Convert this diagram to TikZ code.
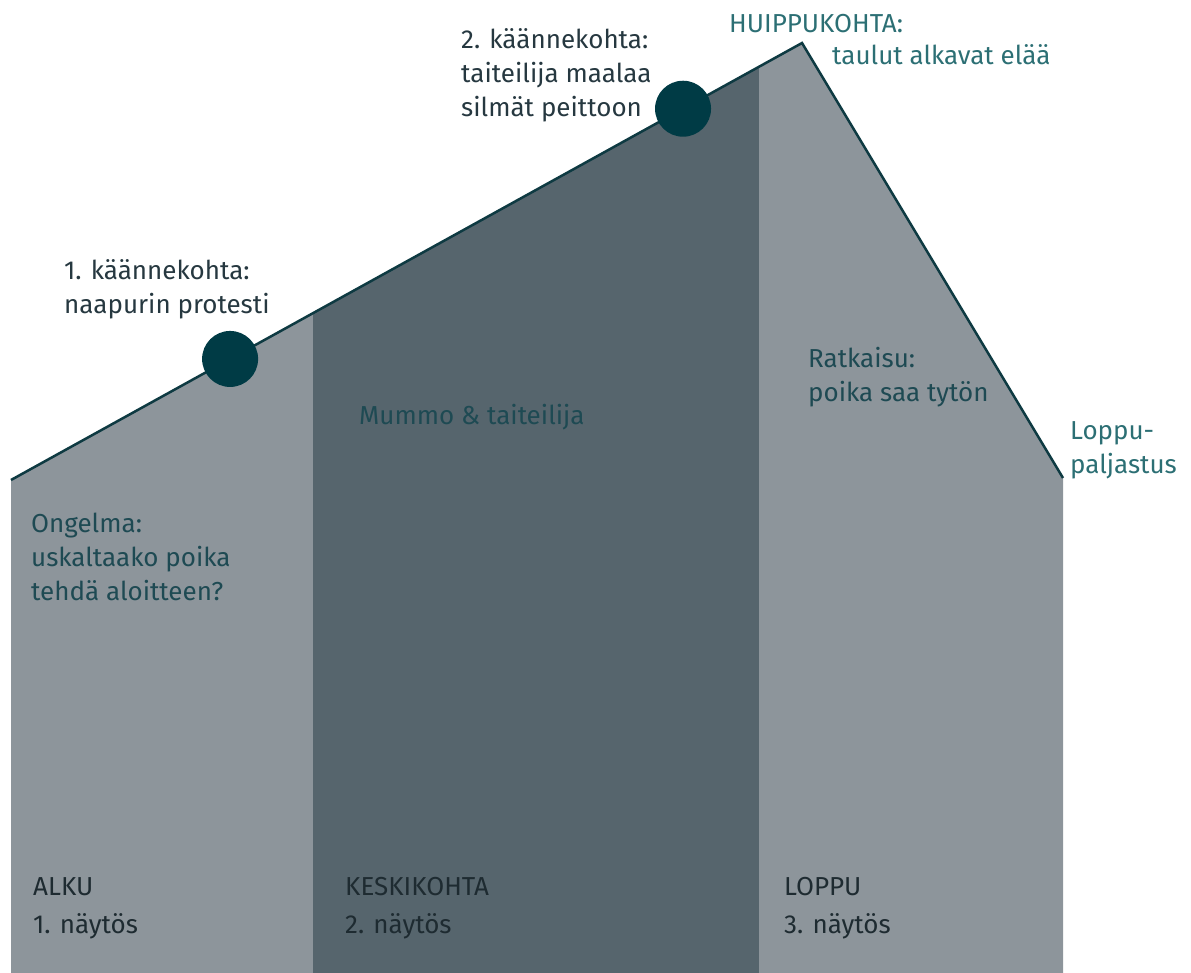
\documentclass[tikz,border=0pt]{standalone}
\usepackage{fontspec}
\setmainfont{Fira Sans}

\definecolor{vaalea}{HTML}{8D959B}
\definecolor{tumma}{HTML}{56656D}
\definecolor{piste}{HTML}{003B45}
\definecolor{viiva}{HTML}{0E3A42}
\definecolor{turkoosi}{HTML}{2C6F74}
\definecolor{petroli}{HTML}{1E4A53}
\definecolor{liuske}{HTML}{263840}
\definecolor{musta}{HTML}{1E2B31}

\tikzset{
  teksti/.style={anchor=base west, inner sep=0pt, align=left,
    font=\fontsize{26}{34}\selectfont},
  kohta/.style={circle, fill=piste, minimum size=56pt, inner sep=0pt}
}

\begin{document}
\begin{tikzpicture}[x=1pt,y=-1pt]
\useasboundingbox (0,0) rectangle (1191,973);

\coordinate (alku) at (11,480);
\coordinate (huippu) at (802,43);
\coordinate (loppu) at (1063,478);

% Näytökset
\fill[vaalea]
(alku) -- (huippu) -- (loppu)
-- (1063,973) -- (11,973) -- cycle;

\begin{scope}
\clip (alku) -- (huippu) -- (loppu)
-- (1063,973) -- (11,973) -- cycle;
\fill[tumma] (313,0) rectangle (759,973);
\end{scope}

% Jännitekaari
\draw[viiva, line width=2.5pt]
(alku) -- (huippu) -- (loppu);

% Käännekohdat
\path (alku) -- (huippu)
node[kohta, pos=0.277] (kaanne1) {}
node[kohta, pos=0.8496] (kaanne2) {};

% Tekstit (sijainti = viimeisen rivin perusviiva)
\node[teksti, liuske] (teksti2) at (461,117)
{2. käännekohta:\\taiteilija maalaa\\silmät peittoon};

\node[teksti, turkoosi] (huipulla) at (729,33) {HUIPPUKOHTA:};
\node[teksti, turkoosi] (taulut) at (832,65) {taulut alkavat elää};

\node[teksti, liuske] (teksti1) at (64,314)
{1. käännekohta:\\naapurin protesti};

\node[teksti, petroli] (mummo) at (359,424) {Mummo \& taiteilija};

\node[teksti, petroli] (ratkaisu) at (808,401)
{Ratkaisu:\\poika saa tytön};

\node[teksti, turkoosi] (paljastus) at (1070,473)
{Loppu-\\paljastus};

\node[teksti, petroli] (ongelma) at (31,600)
{Ongelma:\\uskaltaako poika\\tehdä aloitteen?};

% Näytösten nimet
\node[teksti, musta] (alkuosa) at (33,933) {ALKU\\[4pt]1. näytös};
\node[teksti, musta] (keskiosa) at (345,933) {KESKIKOHTA\\[4pt]2. näytös};
\node[teksti, musta] (loppuosa) at (784,933) {LOPPU\\[4pt]3. näytös};

\end{tikzpicture}
\end{document}
